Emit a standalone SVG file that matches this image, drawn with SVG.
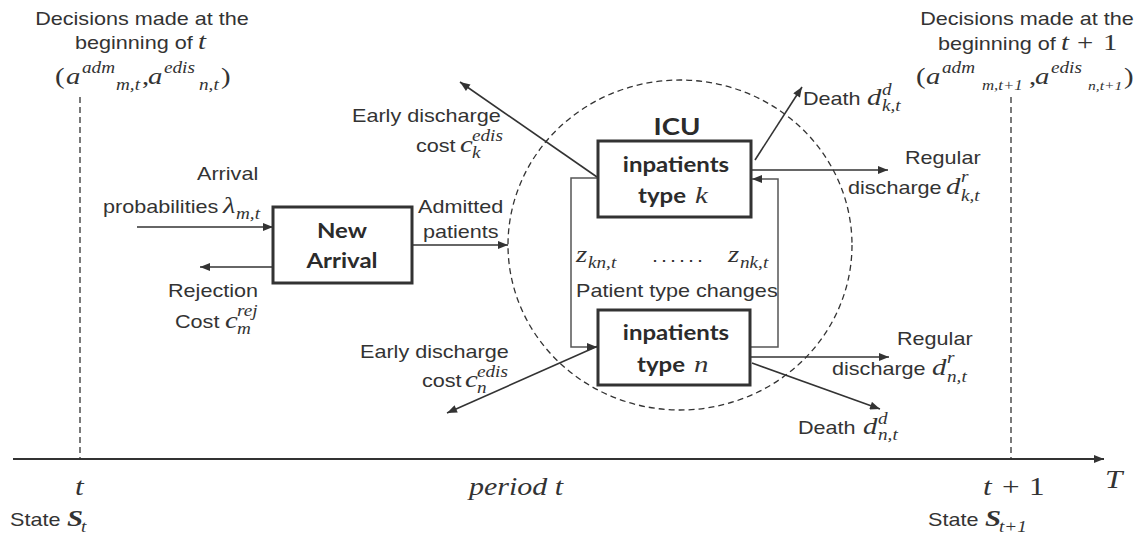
<svg xmlns="http://www.w3.org/2000/svg" width="1138" height="535" viewBox="0 0 1138 535">
  <defs>
    <style>
      .s{font-family:"Liberation Sans",Arial,sans-serif;font-size:18px;fill:#333}
      .c{text-anchor:middle}
      .b{font-family:Lato,"Liberation Sans",sans-serif;font-weight:bold;font-size:20px;fill:#2b2b2b}
      .m{font-family:"Liberation Serif","Times New Roman",serif;font-style:italic;font-size:24px;fill:#333}
      .mr{font-family:"Liberation Serif","Times New Roman",serif;font-size:24px;fill:#333}
      .ms{font-family:"Liberation Serif","Times New Roman",serif;font-style:italic;font-size:16px;fill:#333}
      .mb{font-family:"Liberation Serif","Times New Roman",serif;font-style:italic;font-weight:bold;font-size:24px;fill:#333}
      .box{fill:#fff;stroke:#333;stroke-width:3}
      .ln{fill:none;stroke:#333;stroke-width:1.6}
      .loop{fill:none;stroke:#555;stroke-width:1.5}
      .dash{fill:none;stroke:#333;stroke-width:1.3;stroke-dasharray:6 4}
    </style>
    <marker id="ah" viewBox="0 0 10 8" refX="10" refY="4" markerWidth="11" markerHeight="8" markerUnits="userSpaceOnUse" orient="auto">
      <path d="M0,0L10,4L0,8z" fill="#333"/>
    </marker>
  </defs>

  <rect width="1138" height="535" fill="#fff"/>

  <!-- time axis and decision epochs -->
  <g id="timeline">
    <line class="dash" x1="80" y1="97" x2="80" y2="459"/>
    <line class="dash" x1="1011" y1="97" x2="1011" y2="459"/>
    <line x1="13" y1="459" x2="1104" y2="459" stroke="#333" stroke-width="2" marker-end="url(#ah)"/>
    <text class="m" style="font-size:26px" transform="translate(75 495) scale(1.2 1)">t</text>
    <text class="m" style="font-size:25px" transform="translate(469 495) scale(1.2 1)">period t</text>
    <text class="m" style="font-size:26px" transform="translate(983 495) scale(1.2 1)">t</text>
    <text class="mr" style="font-size:26px" transform="translate(1002 495) scale(1.2 1)">+</text>
    <text class="mr" style="font-size:26px" transform="translate(1029 495) scale(1.2 1)">1</text>
    <text class="m" style="font-size:26px" transform="translate(1105 488) scale(1.2 1)">T</text>
    <text class="s" transform="translate(10 526) scale(1.2 1)">State</text>
    <text class="mb" transform="translate(67 526) scale(1.2 1)">S</text>
    <text class="ms" transform="translate(81 532) scale(1.2 1)">t</text>
    <text class="s" transform="translate(928 526) scale(1.2 1)">State</text>
    <text class="mb" transform="translate(985 526) scale(1.2 1)">S</text>
    <text class="ms" transform="translate(999 532) scale(1.2 1)">t+1</text>
  </g>

  <!-- decisions at the start of each period -->
  <g id="decision-t">
    <text class="s c" transform="translate(142 25) scale(1.2 1)">Decisions made at the</text>
    <text class="s" transform="translate(75 49) scale(1.2 1)">beginning of</text>
    <text class="m" transform="translate(198 49) scale(1.2 1)">t</text>
    <text class="mr" transform="translate(55 84) scale(1.2 1)">(</text>
    <text class="m" transform="translate(66 84) scale(1.2 1)">a</text>
    <text class="ms" transform="translate(82 73) scale(1.2 1)">adm</text>
    <text class="ms" transform="translate(116 90) scale(1.2 1)">m,t</text>
    <text class="mr" transform="translate(142 84) scale(1.2 1)">,</text>
    <text class="m" transform="translate(148 84) scale(1.2 1)">a</text>
    <text class="ms" transform="translate(164 73) scale(1.2 1)">edis</text>
    <text class="ms" transform="translate(199 90) scale(1.2 1)">n,t</text>
    <text class="mr" transform="translate(221 84) scale(1.2 1)">)</text>
  </g>
  <g id="decision-t1">
    <text class="s c" transform="translate(1027 25) scale(1.2 1)">Decisions made at the</text>
    <text class="s" transform="translate(938 50) scale(1.2 1)">beginning of</text>
    <text class="m" transform="translate(1061 50) scale(1.2 1)">t</text>
    <text class="mr" transform="translate(1077 50) scale(1.2 1)">+</text>
    <text class="mr" transform="translate(1103 50) scale(1.2 1)">1</text>
    <text class="mr" transform="translate(916 84) scale(1.2 1)">(</text>
    <text class="m" transform="translate(926 84) scale(1.2 1)">a</text>
    <text class="ms" transform="translate(942 73) scale(1.2 1)">adm</text>
    <text class="ms" style="font-size:14px" transform="translate(982 90) scale(1.2 1)">m,t+1</text>
    <text class="mr" transform="translate(1029 84) scale(1.2 1)">,</text>
    <text class="m" transform="translate(1035 84) scale(1.2 1)">a</text>
    <text class="ms" transform="translate(1051 73) scale(1.2 1)">edis</text>
    <text class="ms" style="font-size:13px" transform="translate(1088 90) scale(1.2 1)">n,t+1</text>
    <text class="mr" transform="translate(1124 84) scale(1.2 1)">)</text>
  </g>

  <!-- ICU boundary -->
  <g id="node-icu">
    <ellipse class="dash" cx="680" cy="245" rx="172" ry="165"/>
    <text class="b c" style="font-size:23px" transform="translate(677 135) scale(1.2 1)">ICU</text>
  </g>

  <!-- flows -->
  <g id="connectors">
    <line class="ln" x1="137" y1="227" x2="273" y2="227" marker-end="url(#ah)"/>
    <line class="ln" x1="273" y1="267" x2="200" y2="267" marker-end="url(#ah)"/>
    <line class="ln" x1="412" y1="245" x2="508" y2="245" marker-end="url(#ah)"/>
    <line class="ln" x1="597" y1="177" x2="460" y2="82" marker-end="url(#ah)"/>
    <line class="ln" x1="755" y1="160" x2="802" y2="87" marker-end="url(#ah)"/>
    <line class="ln" x1="751" y1="170" x2="888" y2="170" marker-end="url(#ah)"/>
    <path class="loop" d="M750,347H778V179H752" marker-end="url(#ah)"/>
    <path class="loop" d="M598,178H571V347H597" marker-end="url(#ah)"/>
    <line class="ln" x1="750" y1="357" x2="889" y2="357" marker-end="url(#ah)"/>
    <line class="ln" x1="752" y1="363" x2="880" y2="409" marker-end="url(#ah)"/>
    <line class="ln" x1="598" y1="346" x2="447" y2="413" marker-end="url(#ah)"/>
  </g>

  <!-- new arrivals -->
  <g id="node-new-arrival">
    <rect class="box" x="273" y="207" width="139" height="76"/>
    <text class="b c" transform="translate(342 238) scale(1.2 1)">New</text>
    <text class="b c" transform="translate(342 268) scale(1.2 1)">Arrival</text>
  </g>

  <!-- inpatient groups -->
  <g id="node-type-k">
    <rect class="box" x="598" y="141" width="153" height="76"/>
    <text class="b c" transform="translate(676 172) scale(1.2 1)">inpatients</text>
    <text class="b" transform="translate(638 203) scale(1.2 1)">type</text>
    <text class="m" transform="translate(695 203) scale(1.2 1)">k</text>
  </g>
  <g id="node-type-n">
    <rect class="box" x="598" y="310" width="152" height="75"/>
    <text class="b c" transform="translate(676 340) scale(1.2 1)">inpatients</text>
    <text class="b" transform="translate(637 372) scale(1.2 1)">type</text>
    <text class="m" transform="translate(694 372) scale(1.2 1)">n</text>
  </g>

  <!-- flow labels -->
  <g id="labels">
    <text class="s" transform="translate(197 180) scale(1.2 1)">Arrival</text>
    <text class="s" transform="translate(103 213) scale(1.2 1)">probabilities</text>
    <text class="m" transform="translate(223 213) scale(1.2 1)">λ</text>
    <text class="ms" transform="translate(236 219) scale(1.2 1)">m,t</text>

    <text class="s" transform="translate(168 297) scale(1.2 1)">Rejection</text>
    <text class="s" transform="translate(175 328) scale(1.2 1)">Cost</text>
    <text class="m" transform="translate(225 328) scale(1.2 1)">c</text>
    <text class="ms" transform="translate(237 316) scale(1.2 1)">rej</text>
    <text class="ms" transform="translate(237 334) scale(1.2 1)">m</text>

    <text class="s" transform="translate(418 213) scale(1.2 1)">Admitted</text>
    <text class="s" transform="translate(423 238) scale(1.2 1)">patients</text>

    <text class="s" transform="translate(352 122) scale(1.2 1)">Early discharge</text>
    <text class="s" transform="translate(416 152) scale(1.2 1)">cost</text>
    <text class="m" transform="translate(460 152) scale(1.2 1)">c</text>
    <text class="ms" transform="translate(472 141) scale(1.2 1)">edis</text>
    <text class="ms" transform="translate(472 158) scale(1.2 1)">k</text>

    <text class="s" transform="translate(360 358) scale(1.2 1)">Early discharge</text>
    <text class="s" transform="translate(422 387) scale(1.2 1)">cost</text>
    <text class="m" transform="translate(465 387) scale(1.2 1)">c</text>
    <text class="ms" transform="translate(477 377) scale(1.2 1)">edis</text>
    <text class="ms" transform="translate(477 393) scale(1.2 1)">n</text>

    <text class="m" transform="translate(576 262) scale(1.2 1)">z</text>
    <text class="ms" transform="translate(588 268) scale(1.2 1)">kn,t</text>
    <text class="s" style="letter-spacing:2.5px" transform="translate(652 262) scale(1.2 1)">......</text>
    <text class="m" transform="translate(728 262) scale(1.2 1)">z</text>
    <text class="ms" transform="translate(740 268) scale(1.2 1)">nk,t</text>
    <text class="s" transform="translate(576 297) scale(1.2 1)">Patient type changes</text>

    <text class="s" transform="translate(803 105) scale(1.2 1)">Death</text>
    <text class="m" transform="translate(867 105) scale(1.2 1)">d</text>
    <text class="ms" transform="translate(882 95) scale(1.2 1)">d</text>
    <text class="ms" transform="translate(882 111) scale(1.2 1)">k,t</text>

    <text class="s" transform="translate(905 164) scale(1.2 1)">Regular</text>
    <text class="s" transform="translate(848 194) scale(1.2 1)">discharge</text>
    <text class="m" transform="translate(946 194) scale(1.2 1)">d</text>
    <text class="ms" transform="translate(961 182) scale(1.2 1)">r</text>
    <text class="ms" transform="translate(961 201) scale(1.2 1)">k,t</text>

    <text class="s" transform="translate(897 345) scale(1.2 1)">Regular</text>
    <text class="s" transform="translate(832 375) scale(1.2 1)">discharge</text>
    <text class="m" transform="translate(932 375) scale(1.2 1)">d</text>
    <text class="ms" transform="translate(947 363) scale(1.2 1)">r</text>
    <text class="ms" transform="translate(947 382) scale(1.2 1)">n,t</text>

    <text class="s" transform="translate(798 434) scale(1.2 1)">Death</text>
    <text class="m" transform="translate(863 434) scale(1.2 1)">d</text>
    <text class="ms" transform="translate(878 424) scale(1.2 1)">d</text>
    <text class="ms" transform="translate(878 440) scale(1.2 1)">n,t</text>
  </g>
</svg>
